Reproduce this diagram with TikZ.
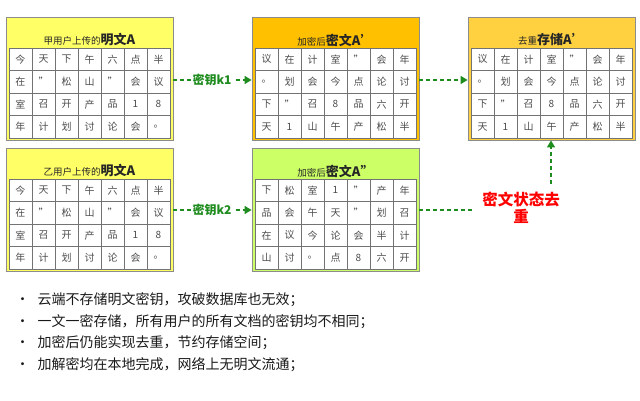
\documentclass[tikz,border=0pt]{standalone}
\usepackage{fontspec}
\setmainfont{Noto Sans CJK SC}
\usetikzlibrary{arrows.meta}
\definecolor{yel}{HTML}{FFFF66}
\definecolor{org}{HTML}{FFC000}
\definecolor{grn}{HTML}{CCFF66}
\definecolor{org2}{HTML}{FFD040}
\definecolor{dg}{HTML}{1E8C1E}
\begin{document}
\begin{tikzpicture}[x=1pt,y=-1pt,
 box/.style={draw=black!45,line width=0.8pt,minimum width=167pt,minimum height=123pt,inner sep=0},
 cell/.style={draw=black!55,fill=white,line width=0.6pt,minimum width=23pt,minimum height=22.5pt,inner sep=0,font=\fontsize{10}{10}\selectfont,text=black!70},
 title/.style={font=\fontsize{9.5}{10}\selectfont,text=black!85},
 dsh/.style={dg,dash pattern=on 4pt off 3pt,line width=1.4pt},
 arr/.style={dsh,-{Triangle[length=7pt,width=8pt]}},
 key/.style={font=\bfseries\fontsize{12}{12}\selectfont,text=dg,fill=white,inner sep=2pt},
 bul/.style={anchor=west,font=\fontsize{14}{15}\selectfont,text=black!90}]
\useasboundingbox (0,0) rectangle (640,401);
\def\drawpanel#1#2#3#4#5#6#7#8#9{%
 \node[box,fill=#3] (#9) at (#1+83.5,#2+61.5) {};
 \node[title] at (#1+83.5,#2+23) {#4};
 \foreach \r [count=\j from 0] in {#5,#6,#7,#8}{%
   \foreach \c [count=\i from 0] in \r {%
     \node[cell] at (#1+14.5+\i*23,#2+42.25+\j*22.5) {\c};}}}
\drawpanel{6}{17}{yel}{甲用户上传的\textbf{\fontsize{13}{13}\selectfont 明文A}}%
 {{今,天,下,午,六,点,半}}{{在,",松,山,",会,议}}{{室,召,开,产,品,1,8}}{{年,计,划,讨,论,会,。}}{p1}
\drawpanel{6}{148}{yel}{乙用户上传的\textbf{\fontsize{13}{13}\selectfont 明文A}}%
 {{今,天,下,午,六,点,半}}{{在,",松,山,",会,议}}{{室,召,开,产,品,1,8}}{{年,计,划,讨,论,会,。}}{p2}
\drawpanel{252}{17}{org}{加密后\textbf{\fontsize{13}{13}\selectfont 密文A'}}%
 {{议,在,计,室,",会,年}}{{。,划,会,今,点,论,讨}}{{下,",召,8,品,六,开}}{{天,1,山,午,产,松,半}}{p3}
\drawpanel{252}{148}{grn}{加密后\textbf{\fontsize{13}{13}\selectfont 密文A''}}%
 {{下,松,室,1,",产,年}}{{品,会,午,天,",划,召}}{{在,议,今,论,会,半,计}}{{山,讨,。,点,8,六,开}}{p4}
\drawpanel{468}{17}{org2}{去重\textbf{\fontsize{13}{13}\selectfont 存储A'}}%
 {{议,在,计,室,",会,年}}{{。,划,会,今,点,论,讨}}{{下,",召,8,品,六,开}}{{天,1,山,午,产,松,半}}{p5}
\coordinate (a1) at (p1.east|-0,80);
\coordinate (b1) at (p3.west|-0,80);
\draw[arr] (a1) -- (b1);
\node[key] (k1) at (212,80) {密钥k1};
\coordinate (a2) at (p2.east|-0,210);
\coordinate (b2) at (p4.west|-0,210);
\draw[arr] (a2) -- (b2);
\node[key] (k2) at (212,210) {密钥k2};
\coordinate (a3) at (p3.east|-0,80);
\coordinate (b3) at (p5.west|-0,80);
\draw[arr] (a3) -- (b3);
\node[font=\bfseries\fontsize{15.5}{17}\selectfont,text=red,align=center] (dd) at (521,208) {密文状态去\\重};
\coordinate (a4) at (p4.east|-0,210);
\draw[dsh] (a4) -- (472,210);
\coordinate (c5) at (551,184);
\draw[arr] (c5) -- (p5.south-|c5);
\foreach \t [count=\k from 0] in {云端不存储明文密钥，攻破数据库也无效；,一文一密存储，所有用户的所有文档的密钥均不相同；,加密后仍能实现去重，节约存储空间；,加解密均在本地完成，网络上无明文流通；}
 {\node[bul] (l\k) at (12,300+\k*21.5) {•\hspace{8pt}\t};}
\end{tikzpicture}
\end{document}
